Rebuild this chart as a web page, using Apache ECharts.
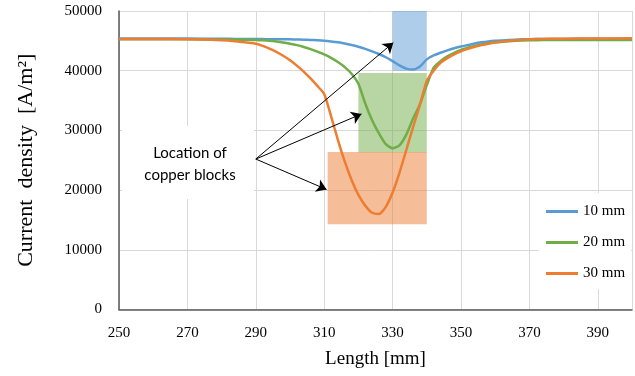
<!DOCTYPE html>
<html><head><meta charset="utf-8">
<script src="https://cdn.jsdelivr.net/npm/echarts@6/dist/echarts.min.js"></script>
<style>html,body{margin:0;padding:0;background:#fff}#c{width:635px;height:376px}</style>
</head><body><div id="c"></div>
<script>
const lengths = [250, 260, 270, 280, 284, 288,
  290, 292, 294, 296, 298, 300, 302, 304, 306, 308, 310, 312, 314, 316, 318, 320, 322, 324, 326, 328,
  330, 332, 334, 336, 338, 340, 342, 344, 346, 348, 350, 352, 354, 356, 358, 360,
  364, 368, 372, 376, 380, 390, 400];
const current10 = [45400, 45400, 45380, 45350, 45330, 45310,
  45300, 45290, 45280, 45270, 45260, 45250, 45230, 45200, 45160, 45100, 45020, 44900, 44750, 44550, 44300, 44000, 43650, 43250, 42800, 42250,
  41600, 40900, 40350, 40200, 40700, 41900, 42550, 43000, 43400, 43750, 44050, 44300, 44550, 44750, 44900, 45000,
  45150, 45250, 45300, 45320, 45330, 45350, 45350];
const current20 = [45250, 45250, 45250, 45230, 45210, 45170,
  45140, 45080, 45000, 44880, 44720, 44520, 44280, 43980, 43620, 43200, 42720, 42150, 41450, 40600, 39500, 37800, 34500, 31700, 29500, 27700,
  27000, 27500, 29300, 32000, 34400, 37600, 40500, 41600, 42400, 43000, 43500, 43850, 44150, 44400, 44600, 44750,
  44950, 45060, 45110, 45130, 45130, 45130, 45130];
const current30 = [45300, 45300, 45280, 45120, 44950, 44680,
  44500, 44150, 43700, 43150, 42500, 41750, 40850, 39850, 38700, 37450, 36100, 32400, 28400, 24800, 21700, 19200, 17400, 16200, 16000, 17200,
  19600, 22900, 26700, 30600, 34300, 38300, 40000, 41300, 42100, 42750, 43250, 43650, 44000, 44280, 44520, 44720,
  45030, 45180, 45300, 45340, 45360, 45400, 45420];
const seriesNames = ['10 mm', '20 mm', '30 mm'];
const blockStart = [330, 320, 311];
const blockEnd   = [340, 340, 340];
const blockLow   = [40000, 26300, 14300];
const blockHigh  = [50000, 39600, 26400];
const calloutOrigin = [290, 25200];
const arrowTipX = [330.2, 320.9, 310.7];
const arrowTipY = [44700, 32750, 20100];
const calloutLines = ['Location of', 'copper blocks'];

const colors = ['#5b9bd5', '#70ad47', '#ed7d31'];
const values = [current10, current20, current30];
const serif = 'Liberation Serif';

const chart = echarts.init(document.getElementById('c'));
const lineSeries = seriesNames.map((n, i) => ({
  name: n, type: 'line', symbol: 'none', showSymbol: false, z: 2,
  smooth: 0.2,
  data: lengths.map((x, k) => [x, values[i][k]]),
  lineStyle: { color: colors[i], width: 2.5 },
  itemStyle: { color: colors[i] },
  emphasis: { disabled: true }
}));
const overlay = {
  name: 'overlay', type: 'line', data: [], z: 5, silent: true,
  markArea: {
    silent: true,
    data: blockStart.map((s, i) => [
      { xAxis: s, yAxis: blockLow[i], itemStyle: { color: colors[i], opacity: 0.5 } },
      { xAxis: blockEnd[i], yAxis: blockHigh[i] }
    ])
  },
  markLine: {
    silent: true, animation: false,
    symbol: ['none', 'arrow'], symbolSize: 10,
    label: { show: false },
    lineStyle: { color: '#000', width: 1, type: 'solid' },
    emphasis: { disabled: true },
    data: arrowTipX.map((x, i) => [
      { coord: calloutOrigin },
      { coord: [x, arrowTipY[i]] }
    ])
  }
};

chart.setOption({
  animation: false,
  grid: { left: 119, right: 2, top: 11, bottom: 66.5, containLabel: false },
  xAxis: {
    type: 'value', min: 250, max: 400, interval: 20,
    name: 'Length [mm]', nameLocation: 'middle', nameGap: 40,
    nameTextStyle: { fontFamily: serif, fontSize: 19, color: '#000' },
    axisLine: { show: true, lineStyle: { color: '#595959', width: 1.5 } },
    axisTick: { show: false },
    axisLabel: { fontFamily: serif, fontSize: 15, color: '#000', margin: 16,
      formatter: v => (v >= 400 ? '' : String(v)) },
    splitLine: { show: true, lineStyle: { color: '#d9d9d9', width: 1 } }
  },
  yAxis: {
    type: 'value', min: 0, max: 50000, interval: 10000,
    name: 'Current  density  [A/m\u00B2]', nameLocation: 'middle', nameGap: 82, nameRotate: 90,
    nameTextStyle: { fontFamily: serif, fontSize: 22, color: '#000' },
    axisLine: { show: true, lineStyle: { color: '#595959', width: 1.5 } },
    axisTick: { show: false },
    axisLabel: { fontFamily: serif, fontSize: 15, color: '#000', margin: 17, formatter: v => String(v) },
    splitLine: { show: true, lineStyle: { color: '#d9d9d9', width: 1 } }
  },
  legend: {
    data: seriesNames.map(n => ({ name: n, icon: 'rect' })), orient: 'vertical', left: 539, top: 193,
    backgroundColor: '#fff', padding: [11, 6, 8, 7],
    itemWidth: 32, itemHeight: 3, itemGap: 16,
    textStyle: { fontFamily: serif, fontSize: 15, color: '#000', lineHeight: 15 }
  },
  graphic: [
    { type: 'rect', z: 50, shape: { x: 122, y: 126, width: 132, height: 73 }, style: { fill: '#fff' } },
    { type: 'text', z: 51, style: { text: calloutLines.join('\n'), x: 190, y: 164, align: 'center', verticalAlign: 'middle',
      font: '15px Lato', lineHeight: 22, fill: '#000' } }
  ],
  series: [...lineSeries, overlay]
});
</script></body></html>
